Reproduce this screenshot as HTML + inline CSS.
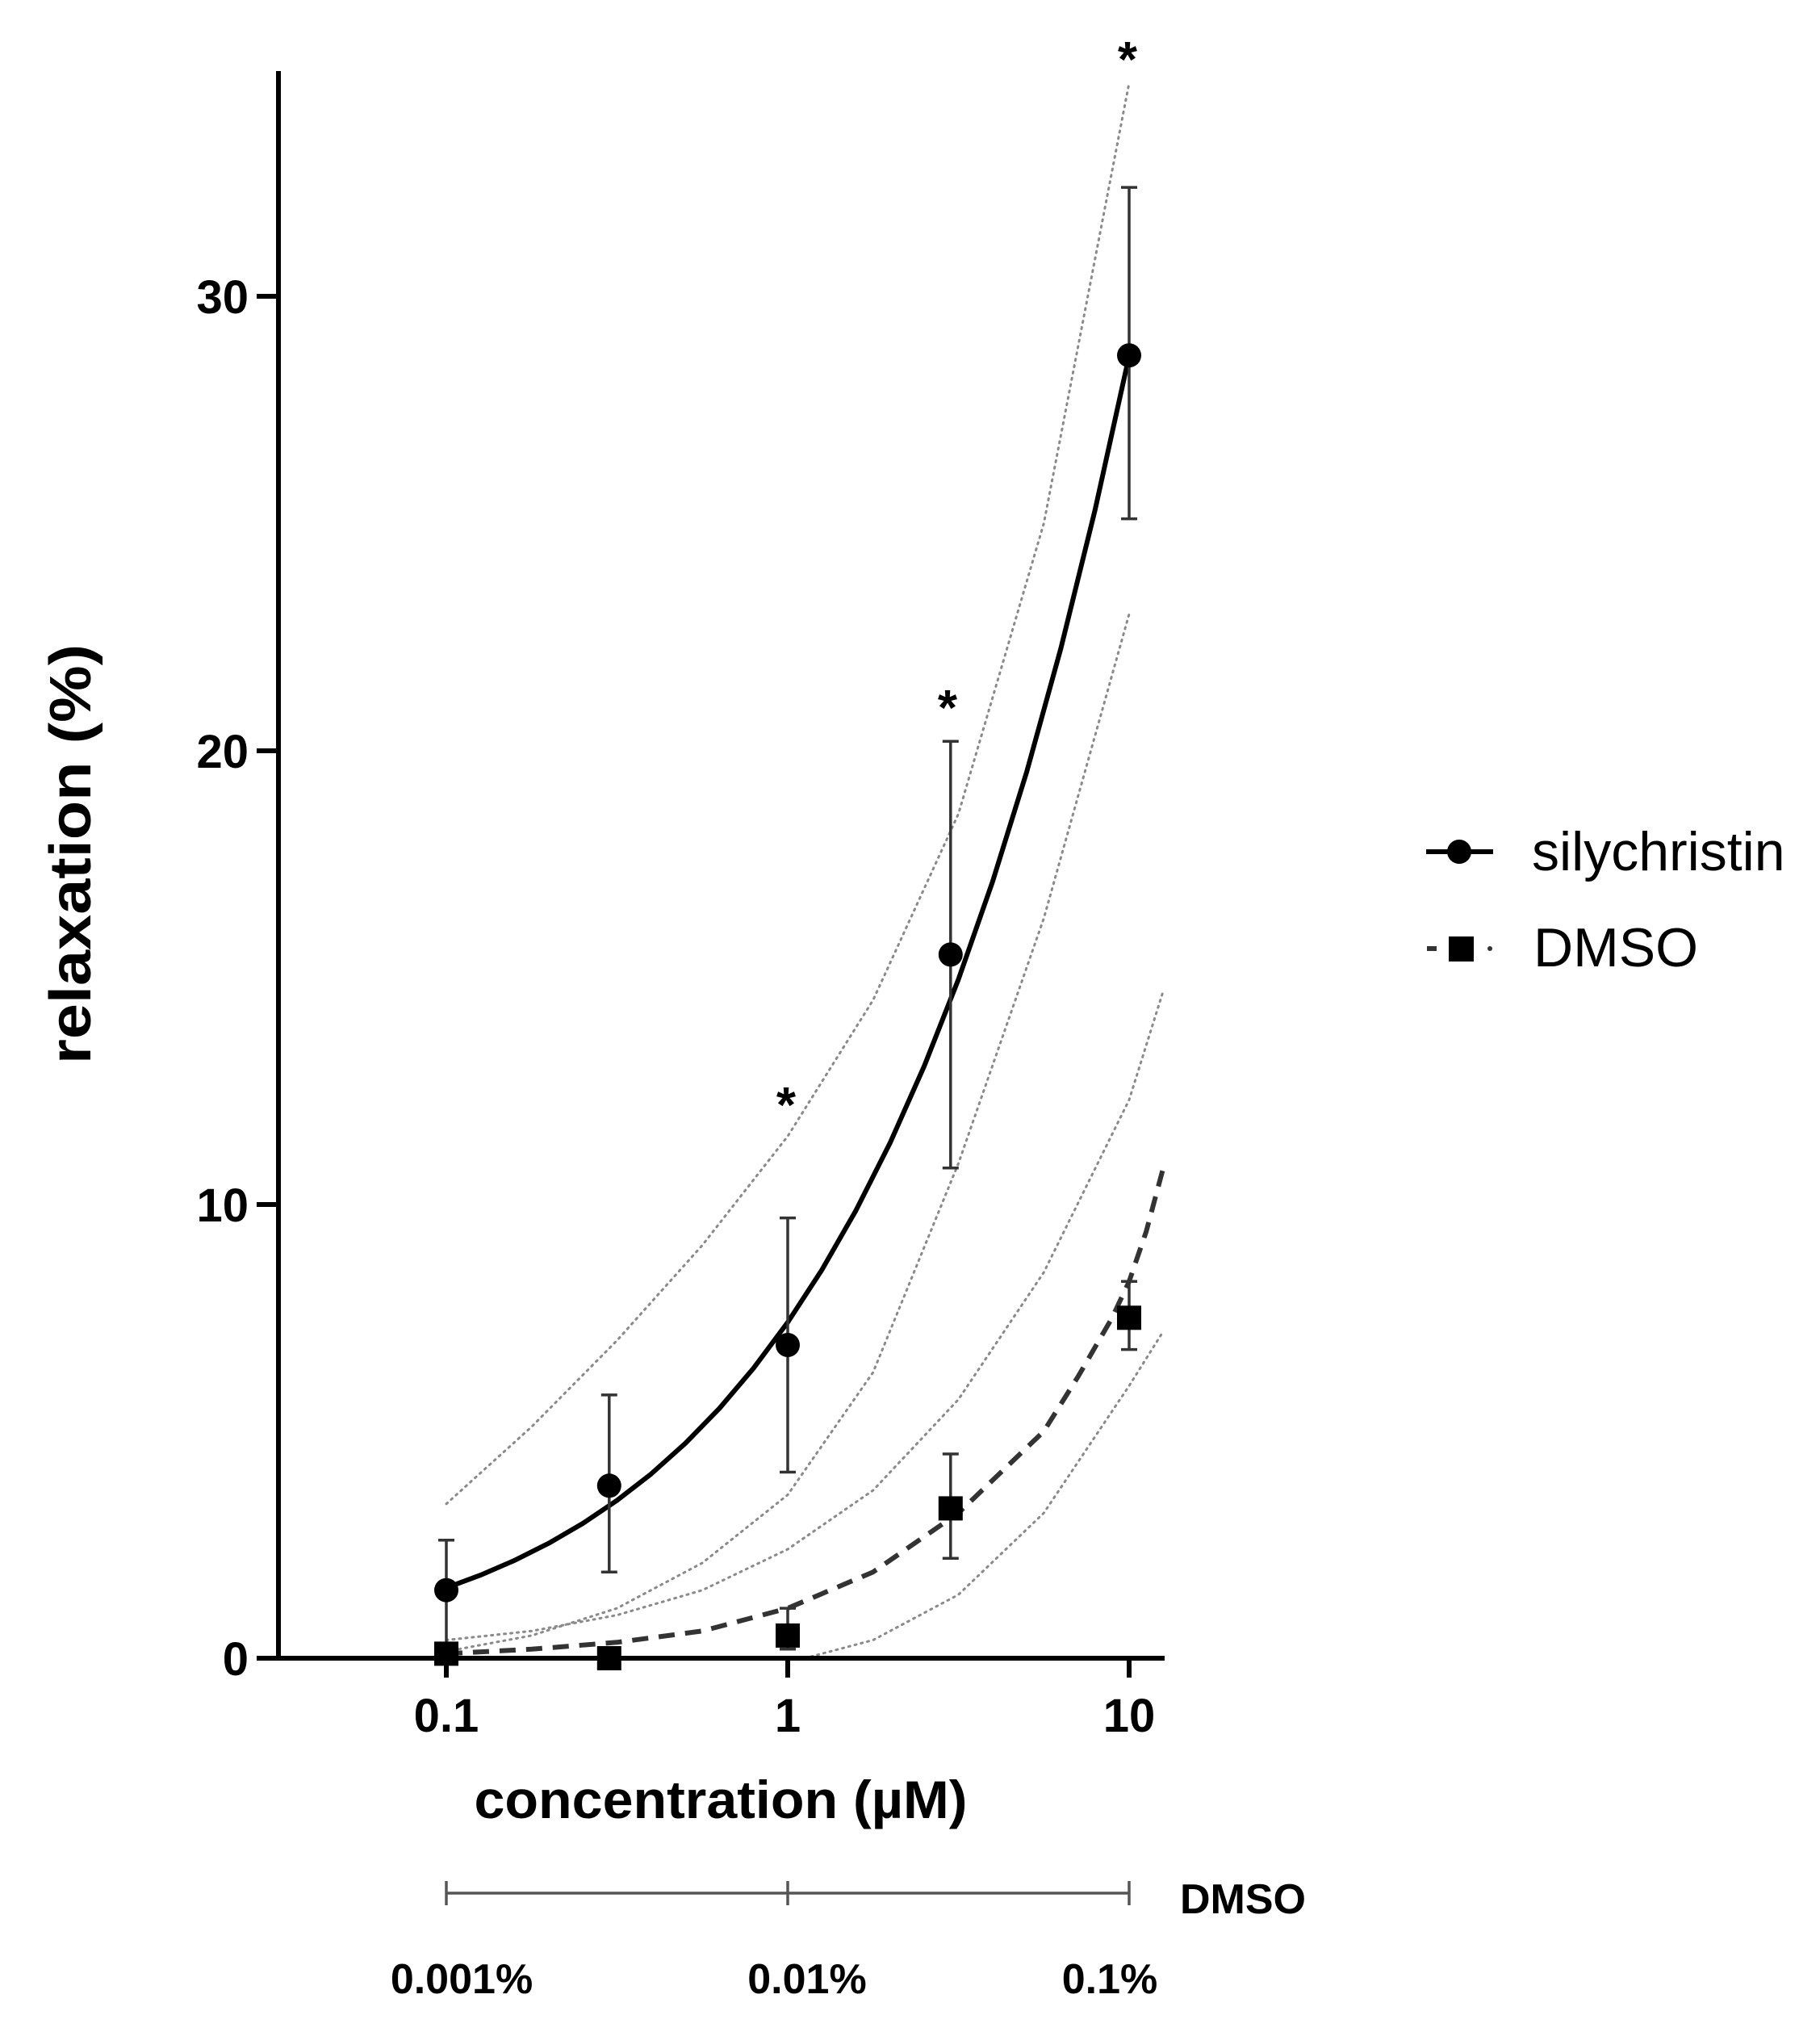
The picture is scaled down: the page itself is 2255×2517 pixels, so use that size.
<!DOCTYPE html>
<html><head><meta charset="utf-8"><style>
html,body{margin:0;padding:0;background:#fff;}
svg{display:block;font-family:"Liberation Sans",Arial,sans-serif;}
</style></head><body>
<svg width="2255" height="2517" viewBox="0 0 2255 2517" xmlns="http://www.w3.org/2000/svg">
<rect width="2255" height="2517" fill="#fff"/>
<g fill="none" stroke="#8a8a8a" stroke-width="3" stroke-dasharray="2 6" stroke-linecap="round" stroke-linejoin="round">
<polyline points="553,1862.8 658.8,1767.2 764.5,1660.4 870.3,1542.3 976,1407.4 1081.8,1238.7 1187.5,1008.1 1293.3,648.3 1399,102.8"/>
<polyline points="553,2045.6 658.8,2025.9 764.5,1992.1 870.3,1935.9 976,1851.6 1081.8,1699.8 1187.5,1441.1 1293.3,1137.5 1399,760.7"/>
<polyline points="553,2031.5 658.8,2020.3 764.5,2000.6 870.3,1969.7 976,1919.0 1081.8,1846.0 1187.5,1733.5 1293.3,1576.0 1399,1362.4 1441.3,1227.4"/>
<polyline points="997.2,2054 1081.8,2031.5 1187.5,1975.3 1293.3,1874.1 1399,1716.6 1441.3,1649.1"/>
</g>
<!-- axes -->
<line x1="345" y1="88" x2="345" y2="2057" stroke="#000" stroke-width="6"/>
<line x1="318" y1="2054" x2="1443" y2="2054" stroke="#000" stroke-width="6"/>
<g stroke="#000" stroke-width="6">
<line x1="318" y1="1492" x2="345" y2="1492"/>
<line x1="318" y1="930" x2="345" y2="930"/>
<line x1="318" y1="367" x2="345" y2="367"/>
<line x1="553" y1="2054" x2="553" y2="2078"/>
<line x1="976" y1="2054" x2="976" y2="2078"/>
<line x1="1399" y1="2054" x2="1399" y2="2078"/>
</g>
<g font-weight="bold" font-size="58" text-anchor="end" fill="#000">
<text x="308" y="2075">0</text>
<text x="308" y="1513">10</text>
<text x="308" y="951">20</text>
<text x="308" y="388">30</text>
</g>
<g font-weight="bold" font-size="58" text-anchor="middle" fill="#000">
<text x="553" y="2145">0.1</text>
<text x="976" y="2145">1</text>
<text x="1399" y="2145">10</text>
</g>
<text x="893" y="2252" font-weight="bold" font-size="66" text-anchor="middle" textLength="611" lengthAdjust="spacingAndGlyphs">concentration (µM)</text>
<text transform="translate(112,1058) rotate(-90)" font-weight="bold" font-size="72" text-anchor="middle" textLength="520" lengthAdjust="spacingAndGlyphs">relaxation (%)</text>
<!-- curves -->
<polyline fill="none" stroke="#000" stroke-width="6" stroke-linejoin="round" points="553,1966.8 595.3,1951.1 637.6,1932.8 679.9,1911.6 722.2,1887.0 764.5,1858.5 806.8,1825.7 849.1,1787.9 891.4,1744.5 933.7,1694.7 976,1637.9 1018.3,1573.0 1060.6,1499.2 1102.9,1415.5 1145.2,1320.4 1187.5,1213.1 1229.8,1092.1 1272.1,956.1 1314.4,803.2 1356.7,632.0 1399,440.7"/>
<polyline fill="none" stroke="#333" stroke-width="6" stroke-dasharray="20 13" stroke-linejoin="round" points="553,2048.4 658.8,2042.8 764.5,2034.3 870.3,2020.3 976,1992.1 1081.8,1947.2 1187.5,1874.1 1293.3,1772.9 1335.6,1705.4 1377.9,1632.3 1399,1587.3 1420.2,1525.4 1441.3,1446.7"/>
<!-- error bars -->
<g stroke="#333" stroke-width="3.5" fill="none">
<path d="M553,2054 V1907.8 M543,1907.8 h20"/>
<path d="M754.8,1947.2 V1727.9 M744.8,1727.9 h20 M744.8,1947.2 h20"/>
<path d="M976,1823.5 V1508.6 M966,1508.6 h20 M966,1823.5 h20"/>
<path d="M1177.8,1446.7 V918.2 M1167.8,918.2 h20 M1167.8,1446.7 h20"/>
<path d="M1399,642.6 V232.1 M1389,232.1 h20 M1389,642.6 h20"/>
<path d="M976,2042.8 V1992.1 M966,1992.1 h20 M966,2042.8 h20"/>
<path d="M1177.8,1930.3 V1801.0 M1167.8,1801.0 h20 M1167.8,1930.3 h20"/>
<path d="M1399,1671.6 V1587.3 M1389,1587.3 h20 M1389,1671.6 h20"/>
</g>
<g fill="#000">
<circle cx="553" cy="1969.7" r="15"/>
<circle cx="754.8" cy="1840.3" r="15"/>
<circle cx="976" cy="1666.0" r="15"/>
<circle cx="1177.8" cy="1182.4" r="15"/>
<circle cx="1399" cy="440.2" r="15"/>
<rect x="538" y="2033.4" width="30" height="30"/>
<rect x="739.8" y="2039" width="30" height="30"/>
<rect x="961" y="2010.9" width="30" height="30"/>
<rect x="1162.8" y="1853.4" width="30" height="30"/>
<rect x="1384" y="1617.3" width="30" height="30"/>
</g>
<g font-weight="bold" font-size="62" text-anchor="middle">
<text x="974" y="1390">*</text>
<text x="1174" y="898">*</text>
<text x="1397" y="95">*</text>
</g>
<!-- legend -->
<line x1="1767" y1="1055" x2="1850" y2="1055" stroke="#000" stroke-width="6"/>
<circle cx="1808" cy="1055" r="15" fill="#000"/>
<text x="1898" y="1078" font-size="68">silychristin</text>
<line x1="1768" y1="1175" x2="1780" y2="1175" stroke="#333" stroke-width="6"/>
<rect x="1795" y="1160" width="31" height="31" fill="#000"/>
<circle cx="1846" cy="1175" r="3" fill="#333"/>
<text x="1900" y="1197" font-size="68">DMSO</text>
<!-- DMSO scale -->
<g stroke="#555" stroke-width="3.5">
<line x1="553" y1="2345" x2="1399" y2="2345"/>
<line x1="553" y1="2330" x2="553" y2="2360"/>
<line x1="976" y1="2330" x2="976" y2="2360"/>
<line x1="1399" y1="2330" x2="1399" y2="2360"/>
</g>
<g font-weight="bold" font-size="52" fill="#000">
<text x="1462" y="2370">DMSO</text>
<text x="572" y="2469" text-anchor="middle">0.001%</text>
<text x="1000" y="2469" text-anchor="middle">0.01%</text>
<text x="1375" y="2469" text-anchor="middle">0.1%</text>
</g>
</svg>
</body></html>
